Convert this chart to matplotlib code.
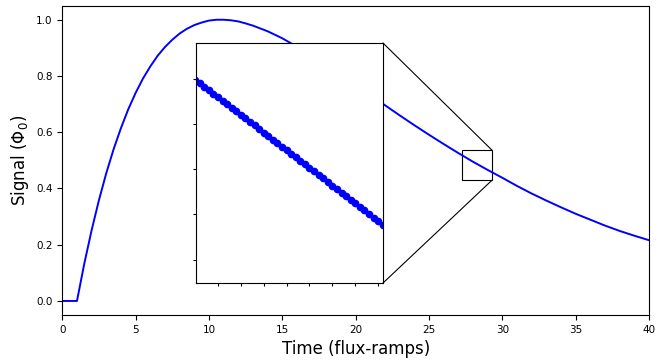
import matplotlib
matplotlib.use("Agg")
import matplotlib.pyplot as plt
from matplotlib.ticker import FixedLocator, NullFormatter
from mpl_toolkits.axes_grid1.inset_locator import mark_inset

# main trace (time in flux-ramps, signal in Phi_0)
time = [0, 0.5, 1.0, 1.5, 2.0, 2.5, 3.0, 3.5, 4.0, 4.5, 5.0, 5.5, 6.0, 6.5,
        7.0, 7.5, 8.0, 8.5, 9.0, 9.5, 10.0, 10.5, 11.0, 11.5, 12.0, 12.5, 13.0,
        14, 15, 16, 17, 18, 19, 20, 21, 22, 23, 24, 25, 26, 27, 28, 29, 30,
        31, 32, 33, 34, 35, 36, 37, 38, 39, 40]
signal = [0.0, 0.0, 0.0, 0.133, 0.252, 0.359, 0.455, 0.540, 0.615, 0.682,
          0.740, 0.791, 0.834, 0.872, 0.903, 0.929, 0.951, 0.968, 0.981,
          0.990, 0.997, 1.000, 1.000, 0.998, 0.994, 0.987, 0.979,
          0.959, 0.934, 0.904, 0.873, 0.839, 0.804, 0.768, 0.732, 0.696,
          0.660, 0.625, 0.591, 0.558, 0.526, 0.495, 0.466, 0.438,
          0.409, 0.382, 0.357, 0.333, 0.310, 0.289, 0.268, 0.249, 0.232, 0.216]

# densely sampled points shown in the zoomed inset
zoom_time = [27.20, 27.25, 27.30, 27.35, 27.40, 27.45, 27.50, 27.55, 27.60,
             27.65, 27.70, 27.75, 27.80, 27.85, 27.90, 27.95, 28.00, 28.05,
             28.10, 28.15, 28.20, 28.25, 28.30, 28.35, 28.40, 28.45, 28.50,
             28.55, 28.60, 28.65, 28.70, 28.75, 28.80, 28.85, 28.90, 28.95,
             29.00, 29.05, 29.10, 29.15, 29.20, 29.25, 29.30, 29.35]
zoom_signal = [0.5213, 0.5197, 0.5182, 0.5166, 0.5150, 0.5135, 0.5119, 0.5103,
               0.5088, 0.5072, 0.5056, 0.5041, 0.5025, 0.5009, 0.4994, 0.4978,
               0.4962, 0.4947, 0.4931, 0.4915, 0.4900, 0.4884, 0.4868, 0.4853,
               0.4837, 0.4821, 0.4806, 0.4790, 0.4774, 0.4759, 0.4743, 0.4727,
               0.4712, 0.4696, 0.4680, 0.4665, 0.4649, 0.4633, 0.4618, 0.4602,
               0.4586, 0.4571, 0.4555, 0.4539]

fig = plt.figure(figsize=(6.58, 3.62), dpi=100)
ax = fig.add_axes([0.0947, 0.1298, 0.8916, 0.8545])
ax.plot(time, signal, color='b', lw=1.4)
ax.set_xlim(0, 40)
ax.set_ylim(-0.05, 1.05)
ax.set_xlabel('Time (flux-ramps)', fontsize=12)
ax.set_ylabel(r'Signal ($\Phi_0$)', fontsize=12)
ax.tick_params(labelsize=7.5)

axins = fig.add_axes([0.2979, 0.2174, 0.2837, 0.6646])
axins.plot(zoom_time, zoom_signal, color='b', lw=2.5, marker='o', ms=4.5)
axins.set_xlim(27.26, 29.30)
axins.set_ylim(0.4295, 0.536)
axins.xaxis.set_major_locator(FixedLocator([27.5, 27.75, 28.0, 28.25, 28.5, 28.75, 29.0, 29.25]))
axins.yaxis.set_major_locator(FixedLocator([0.44, 0.46, 0.48, 0.50, 0.52]))
axins.xaxis.set_major_formatter(NullFormatter())
axins.yaxis.set_major_formatter(NullFormatter())
axins.tick_params(length=2.5)

mark_inset(ax, axins, loc1=1, loc2=4, fc='none', ec='k', lw=0.8)

fig.savefig('out.png', dpi=100)
